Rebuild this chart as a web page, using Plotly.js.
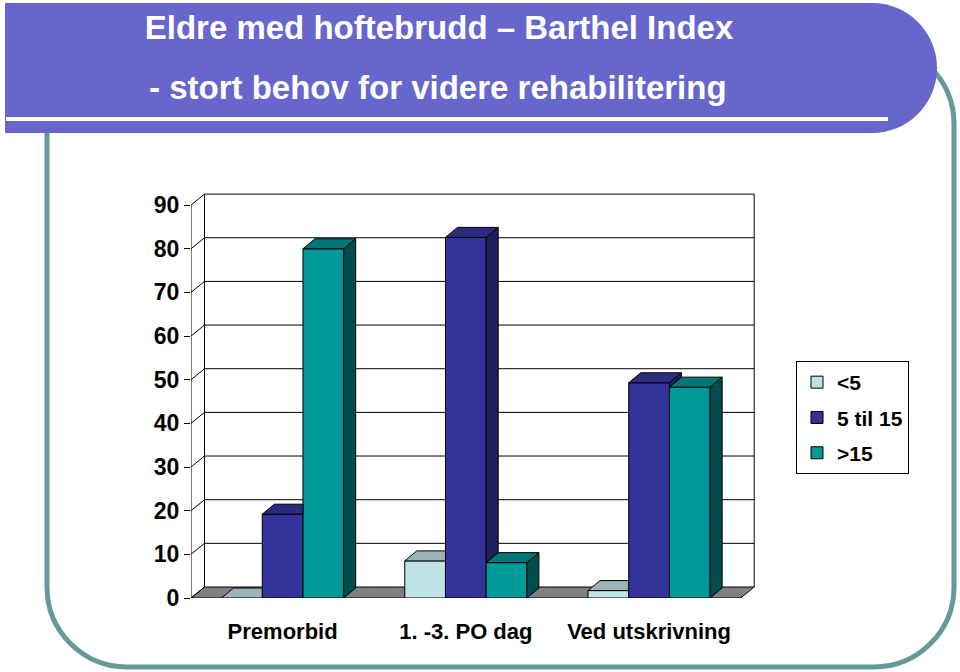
<!DOCTYPE html>
<html>
<head>
<meta charset="utf-8">
<script src="https://cdn.plot.ly/plotly-3.0.1.min.js"></script>
<style>html,body{margin:0;padding:0;background:#fff;}#chart{width:960px;height:672px;}</style>
</head>
<body>
<div id="chart"></div>
<script>
// ---- data ----
const categories = ['Premorbid', '1. -3. PO dag', 'Ved utskrivning'];
const seriesNames = ['<5', '5 til 15', '>15'];
const valuesLt5 = [0, 8.5, 1.7];
const values5to15 = [19.2, 82.6, 49.3];
const valuesGt15 = [80, 8.1, 48.3];
const yTickVals = [0, 10, 20, 30, 40, 50, 60, 70, 80, 90];
const titleLine1 = 'Eldre med hoftebrudd – Barthel Index';
const titleLine2 = '- stort behov for videre rehabilitering';

// ---- style ----
const W = 960, H = 672;
const ML = 191, MR = 201, MT = 192, MB = 74;
const X_RANGE = [-0.5, 2.6];
const Y_RANGE = [0, 93];
const PW = W - ML - MR, PH = H - MT - MB;
const pxPerX = PW / (X_RANGE[1] - X_RANGE[0]);
const pxPerY = PH / (Y_RANGE[1] - Y_RANGE[0]);
const WALL_DX = 13.5 / pxPerX, WALL_DY = 11 / pxPerY;
const BAR_DX = 12 / pxPerX, BAR_DY = 10 / pxPerY;
const BARGAP = 1 / 3;
const FONT = 'Liberation Sans, Arial, sans-serif';
const frontColors = ['#BEE2E5', '#333399', '#009999'];
const topColors = ['#9BB4B7', '#2B2B80', '#007777'];
const sideColors = ['#7A9698', '#1F1F5C', '#004D4D'];
const seriesValues = [valuesLt5, values5to15, valuesGt15];
const xIdx = categories.map((c, i) => i);
const yMax = yTickVals[yTickVals.length - 1];

const px2x = p => (p - ML) / PW;
const px2y = p => (H - MB - p) / PH;

const traces = [];
// front faces as real bars
seriesValues.forEach((vals, s) => {
  traces.push({
    type: 'bar', x: xIdx, y: vals, name: seriesNames[s],
    legendgroup: 'g' + s,
    marker: {color: frontColors[s], line: {color: '#000', width: 1}},
    hoverinfo: 'skip'
  });
});
// 3D top and side faces, computed from the same values
const bw = (1 - BARGAP) / seriesValues.length;
function poly(xs, ys, color) {
  traces.push({
    type: 'scatter', mode: 'lines', x: xs.concat([xs[0]]), y: ys.concat([ys[0]]),
    fill: 'toself', fillcolor: color, line: {color: '#000', width: 1},
    hoverinfo: 'skip', showlegend: false
  });
}
seriesValues.forEach((vals, s) => {
  vals.forEach((v, c) => {
    const xc = c + (s - (seriesValues.length - 1) / 2) * bw;
    const x0 = xc - bw / 2, x1 = xc + bw / 2;
    const next = s < seriesValues.length - 1 ? seriesValues[s + 1][c] : 0;
    if (v > next) {
      poly([x1, x1 + BAR_DX, x1 + BAR_DX, x1], [next, next + BAR_DY, v + BAR_DY, v], sideColors[s]);
      poly([x0, x0 + BAR_DX, x1 + BAR_DX, x1], [v, v + BAR_DY, v + BAR_DY, v], topColors[s]);
    } else {
      poly([x0, x0 + BAR_DX, x1, x1], [v, v + BAR_DY, v + BAR_DY, v], topColors[s]);
    }
  });
});

// ---- chart furniture ----
const xl = X_RANGE[0], xr = categories.length - 0.5;
const shapes = [];
// floor
shapes.push({type: 'path', xref: 'x', yref: 'y', layer: 'below',
  path: `M${xl},0 L${xr},0 L${xr + WALL_DX},${WALL_DY} L${xl + WALL_DX},${WALL_DY} Z`,
  fillcolor: '#808080', line: {color: '#000', width: 1}});
// back-wall gridlines + side diagonals
yTickVals.forEach(t => {
  if (t > 0) shapes.push({type: 'line', xref: 'x', yref: 'y', layer: 'below',
    x0: xl + WALL_DX, x1: xr + WALL_DX, y0: t + WALL_DY, y1: t + WALL_DY, line: {color: '#000', width: 1}});
  shapes.push({type: 'line', xref: 'x', yref: 'y', layer: 'below',
    x0: xl, x1: xl + WALL_DX, y0: t, y1: t + WALL_DY, line: {color: '#000', width: 1}});
});
// wall verticals and front axis line
[[xl, 0, xl, yMax], [xl + WALL_DX, WALL_DY, xl + WALL_DX, yMax + WALL_DY],
 [xr + WALL_DX, WALL_DY, xr + WALL_DX, yMax + WALL_DY]].forEach(l => {
  shapes.push({type: 'line', xref: 'x', yref: 'y', layer: 'below',
    x0: l[0], y0: l[1], x1: l[2], y1: l[3], line: {color: '#000', width: 1}});
});

// slide decoration (pixel -> paper)
function pathPx(cmds) {
  return cmds.map(c => c[0] + c.slice(1).map((v, i) => (i % 2 === 0 ? px2x(v) : px2y(v)).toFixed(5)).join(',')).join(' ');
}
const k = 0.5523;
// teal frame (rounded rect)
{
  const L = 47, R = 954, T = 44, B = 667, r = 80;
  shapes.push({type: 'path', xref: 'paper', yref: 'paper', layer: 'above',
    path: pathPx([
      ['M', L, T + r], ['L', L, B - r], ['C', L, B - r + k * r, L + r - k * r, B, L + r, B],
      ['L', R - r, B], ['C', R - r + k * r, B, R, B - r + k * r, R, B - r],
      ['L', R, T + r], ['C', R, T + r - k * r, R - r + k * r, T, R - r, T],
      ['L', L + r, T], ['C', L + r - k * r, T, L, T + r - k * r, L, T + r]]) + ' Z',
    line: {color: '#669999', width: 5}});
}
// blue banner
{
  const L = 5, T = 3, B = 133, r = 65, cx = 872, cy = 68;
  shapes.push({type: 'path', xref: 'paper', yref: 'paper', layer: 'above',
    path: pathPx([['M', L, T], ['L', cx, T], ['C', cx + k * r, T, cx + r, cy - k * r, cx + r, cy],
      ['C', cx + r, cy + k * r, cx + k * r, B, cx, B], ['L', L, B]]) + ' Z',
    fillcolor: '#6666CC', line: {width: 0}});
  shapes.push({type: 'line', xref: 'paper', yref: 'paper', layer: 'above',
    x0: px2x(6), x1: px2x(888), y0: px2y(119), y1: px2y(119), line: {color: '#fff', width: 4}});
}

const layout = {
  width: W, height: H,
  margin: {l: ML, r: MR, t: MT, b: MB, pad: 0},
  paper_bgcolor: '#fff', plot_bgcolor: '#fff',
  barmode: 'group', bargap: BARGAP, bargroupgap: 0,
  showlegend: true, hovermode: false,
  title: {text: titleLine1, x: 439 / W, xanchor: 'center', xref: 'container',
    y: 1 - 27 / H, yanchor: 'middle', yref: 'container',
    font: {family: FONT, size: 33, color: '#fff', weight: 'bold'}},
  annotations: [{text: titleLine2, xref: 'paper', yref: 'paper', x: px2x(438), y: px2y(87),
    xanchor: 'center', yanchor: 'middle', showarrow: false,
    font: {family: FONT, size: 33, color: '#fff', weight: 'bold'}}],
  xaxis: {range: X_RANGE, tickvals: xIdx, ticktext: categories, ticks: 'outside', ticklen: 14,
    tickcolor: 'rgba(0,0,0,0)', showgrid: false, zeroline: false, showline: false,
    tickfont: {family: FONT, size: 22, color: '#000', weight: 'bold'}, fixedrange: true},
  xaxis2: {range: X_RANGE, overlaying: 'x', anchor: 'y', side: 'bottom',
    tickvals: [-0.5, 0.5, 1.5, 2.5], ticks: 'outside', ticklen: 7, tickcolor: '#000', tickwidth: 1,
    showticklabels: false, showgrid: false, zeroline: false, showline: false},
  yaxis: {range: Y_RANGE, tickvals: yTickVals, ticks: 'outside', ticklen: 6, tickcolor: '#000',
    showgrid: false, zeroline: false, showline: false,
    tickfont: {family: FONT, size: 23, color: '#000', weight: 'bold'}},
  legend: {x: px2x(796), y: px2y(361), xanchor: 'left', yanchor: 'top',
    bgcolor: '#fff', bordercolor: '#000', borderwidth: 1, tracegroupgap: 5, itemwidth: 30,
    font: {family: FONT, size: 21, color: '#000', weight: 'bold'}},
  shapes: shapes
};

Plotly.newPlot('chart', traces, layout, {staticPlot: true, displayModeBar: false});
</script>
</body>
</html>
